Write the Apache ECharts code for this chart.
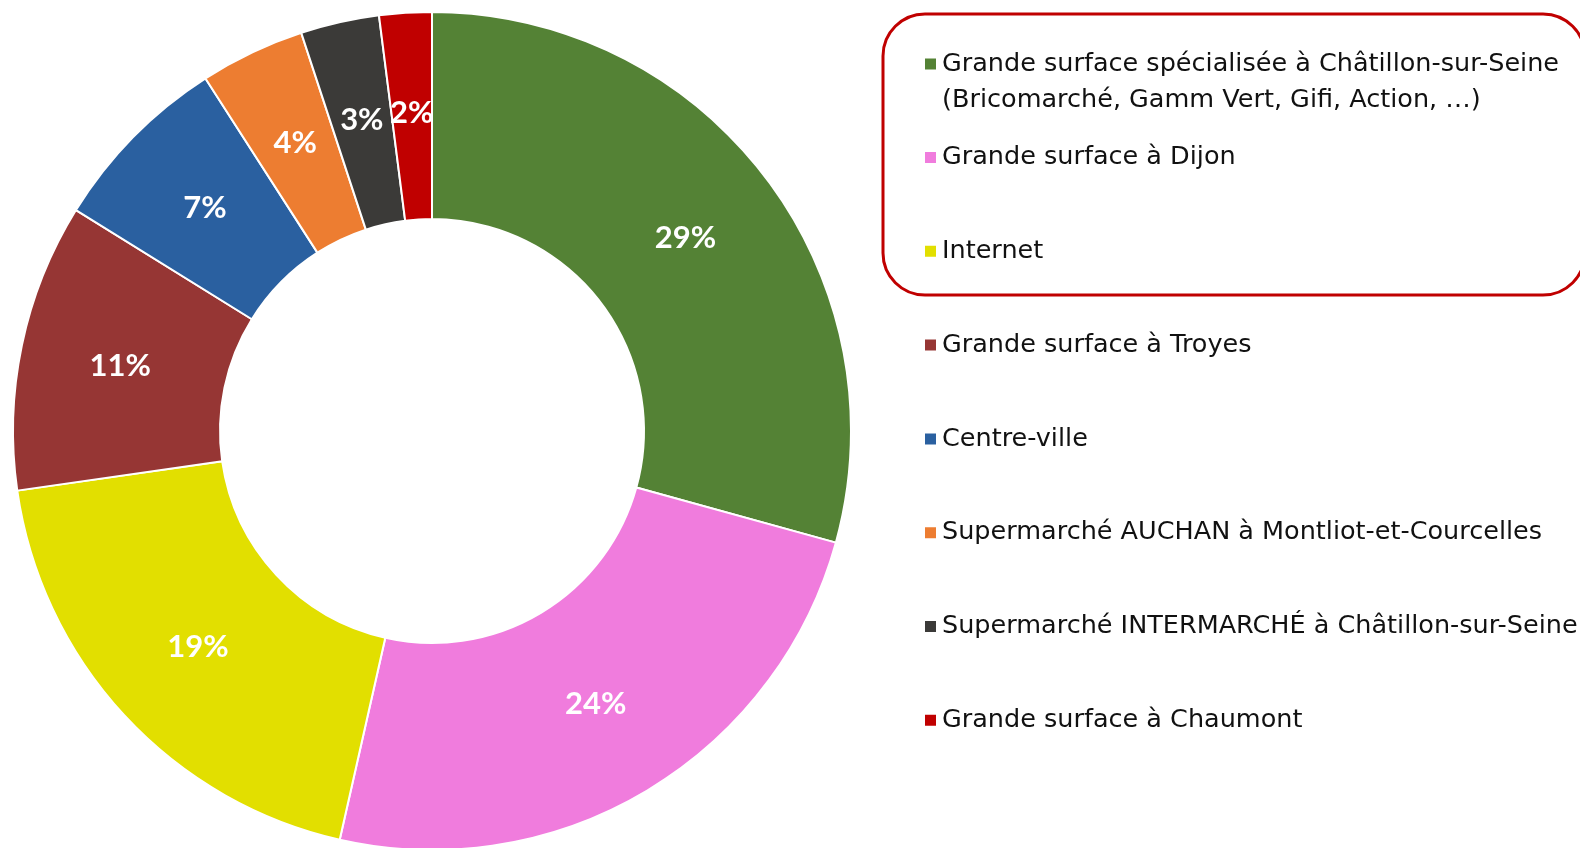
<!DOCTYPE html>
<html>
<head>
<meta charset="utf-8">
<script src="https://cdn.jsdelivr.net/npm/echarts@6/dist/echarts.min.js"></script>
<style>
  html, body { margin: 0; padding: 0; background: #fff; }
  #chart { width: 1580px; height: 848px; }
</style>
</head>
<body>
<div id="chart"></div>
<script>
// Lieux d'achat (%)
var categories = [
  'Grande surface spécialisée à Châtillon-sur-Seine (Bricomarché, Gamm Vert, Gifi, Action, …)',
  'Grande surface à Dijon',
  'Internet',
  'Grande surface à Troyes',
  'Centre-ville',
  'Supermarché AUCHAN à Montliot-et-Courcelles',
  'Supermarché INTERMARCHÉ à Châtillon-sur-Seine',
  'Grande surface à Chaumont'
];
var values = [29, 24, 19, 11, 7, 4, 3, 2];
var colors = ['#548235', '#f07cdd', '#e2df00', '#963634', '#2a60a0', '#ed7d31', '#3b3a38', '#c00000'];

var chart = echarts.init(document.getElementById('chart'));

var legendFont = '"DejaVu Sans", sans-serif';
var labelFont = 'Lato, "Noto Sans", sans-serif';

var option = {
  color: colors,
  animation: false,
  legend: [
    {
      // first entry wraps on two lines; an empty line on top keeps the icon on line one
      orient: 'vertical',
      left: 918,
      top: 5,
      icon: 'rect',
      itemWidth: 13,
      itemHeight: 13,
      data: [categories[0]],
      formatter: function (name) {
        return '\n' + name.replace(' (', '\n(');
      },
      textStyle: {
        color: '#111',
        fontSize: 25.5,
        fontFamily: legendFont,
        lineHeight: 36
      }
    },
    {
      orient: 'vertical',
      left: 918,
      top: 137.5,
      icon: 'rect',
      itemWidth: 13,
      itemHeight: 13,
      itemGap: 63.8,
      data: categories.slice(1),
      textStyle: {
        color: '#111',
        fontSize: 25.5,
        fontFamily: legendFont,
        lineHeight: 30
      }
    }
  ],
  graphic: [{
    type: 'rect',
    shape: { x: 883, y: 14, width: 702, height: 281, r: 42 },
    style: { fill: 'none', stroke: '#c00000', lineWidth: 3 },
    silent: true
  }],
  series: [{
    name: 'Lieux',
    type: 'pie',
    center: [432, 431],
    radius: [212, 419],
    startAngle: 90,
    clockwise: true,
    avoidLabelOverlap: false,
    itemStyle: { borderColor: '#fff', borderWidth: 2 },
    label: {
      show: true,
      position: 'inside',
      formatter: '{c}%',
      color: '#fff',
      fontSize: 31,
      fontWeight: 'bold',
      fontFamily: labelFont
    },
    labelLine: { show: false },
    data: categories.map(function (c, i) {
      return { name: c, value: values[i] };
    })
  }]
};

chart.setOption(option);
window.addEventListener('resize', function () { chart.resize(); });
</script>
</body>
</html>
